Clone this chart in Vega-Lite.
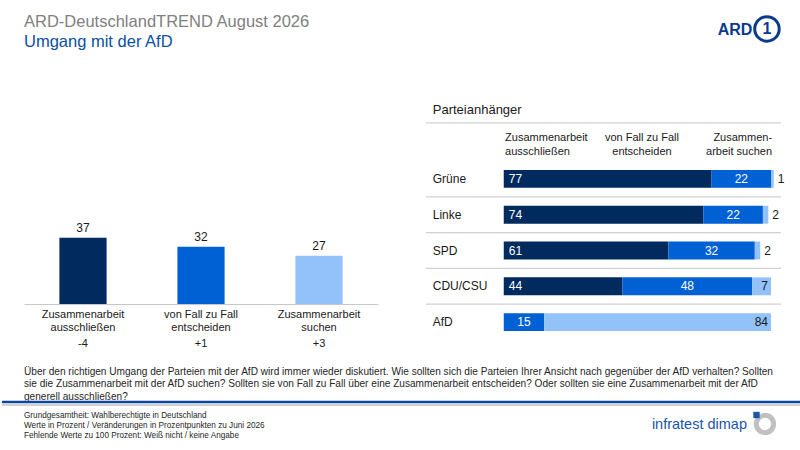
{
  "$schema": "https://vega.github.io/schema/vega-lite/v6.json",
  "background": "white",
  "padding": {"left": 0, "top": 10, "right": 0, "bottom": 0},
  "config": {"font": "Liberation Sans", "view": {"stroke": null}},
  "datasets": {
    "gesamt": [
      {"answer": "Zusammenarbeit\nausschließen", "value": 37, "change": "-4"},
      {"answer": "von Fall zu Fall\nentscheiden", "value": 32, "change": "+1"},
      {"answer": "Zusammenarbeit\nsuchen", "value": 27, "change": "+3"}
    ],
    "parteien": [
      {"party": "Grüne", "k": 1, "value": 77},
      {"party": "Grüne", "k": 2, "value": 22},
      {"party": "Grüne", "k": 3, "value": 1},
      {"party": "Linke", "k": 1, "value": 74},
      {"party": "Linke", "k": 2, "value": 22},
      {"party": "Linke", "k": 3, "value": 2},
      {"party": "SPD", "k": 1, "value": 61},
      {"party": "SPD", "k": 2, "value": 32},
      {"party": "SPD", "k": 3, "value": 2},
      {"party": "CDU/CSU", "k": 1, "value": 44},
      {"party": "CDU/CSU", "k": 2, "value": 48},
      {"party": "CDU/CSU", "k": 3, "value": 7},
      {"party": "AfD", "k": 1, "value": 0},
      {"party": "AfD", "k": 2, "value": 15},
      {"party": "AfD", "k": 3, "value": 84}
    ],
    "texte": [
      {"frage": "Über den richtigen Umgang der Parteien mit der AfD wird immer wieder diskutiert. Wie sollten sich die Parteien Ihrer Ansicht nach gegenüber der AfD verhalten? Sollten\nsie die Zusammenarbeit mit der AfD suchen? Sollten sie von Fall zu Fall über eine Zusammenarbeit entscheiden? Oder sollten sie eine Zusammenarbeit mit der AfD\ngenerell ausschließen?",
       "fuss": "Grundgesamtheit: Wahlberechtigte in Deutschland\nWerte in Prozent / Veränderungen in Prozentpunkten zu Juni 2026\nFehlende Werte zu 100 Prozent: Weiß nicht / keine Angabe",
       "logo": "infratest dimap"}
    ]
  },
  "vconcat": [
    {
      "hconcat": [
        {
          "width": 354,
          "height": 143,
          "data": {"name": "gesamt"},
          "title": {
            "text": "ARD-DeutschlandTREND August 2026",
            "subtitle": "Umgang mit der AfD",
            "anchor": "start",
            "frame": "group",
            "offset": 111,
            "fontSize": 16.5,
            "fontWeight": "normal",
            "color": "#808080",
            "font": "Liberation Sans",
            "subtitleFont": "Liberation Sans",
            "subtitleFontSize": 16.5,
            "subtitleColor": "#0b4fa3",
            "subtitlePadding": 3
          },
          "encoding": {
            "x": {
              "field": "answer", "type": "nominal", "sort": null,
              "scale": {"paddingInner": 0.6, "paddingOuter": 0.3},
              "axis": {"title": null, "labels": false, "ticks": false, "grid": false, "domainColor": "#c8c8c8", "domainWidth": 1.2}
            }
          },
          "layer": [
            {
              "mark": {"type": "bar"},
              "encoding": {
                "y": {"field": "value", "type": "quantitative", "scale": {"domain": [0, 80]}, "axis": null},
                "color": {"field": "answer", "type": "nominal", "scale": {"domain": ["Zusammenarbeit\nausschließen", "von Fall zu Fall\nentscheiden", "Zusammenarbeit\nsuchen"], "range": ["#012a5e", "#0061d5", "#93c2fb"]}, "legend": null}
              }
            },
            {
              "mark": {"type": "text", "baseline": "alphabetic", "dy": -6, "fontSize": 12, "color": "#1a1a1a"},
              "encoding": {
                "y": {"field": "value", "type": "quantitative", "axis": null},
                "text": {"field": "value", "type": "quantitative"}
              }
            },
            {
              "mark": {"type": "text", "baseline": "alphabetic", "lineBreak": "\n", "lineHeight": 13.5, "dy": 13.5, "fontSize": 11, "color": "#1a1a1a"},
              "encoding": {
                "y": {"datum": 0, "type": "quantitative", "axis": null},
                "text": {"field": "answer", "type": "nominal"}
              }
            },
            {
              "mark": {"type": "text", "baseline": "alphabetic", "dy": 43, "fontSize": 11, "color": "#1a1a1a"},
              "encoding": {
                "y": {"datum": 0, "type": "quantitative", "axis": null},
                "text": {"field": "change", "type": "nominal"}
              }
            }
          ]
        },
        {
          "width": 355,
          "height": 179,
          "data": {"name": "parteien"},
          "transform": [
            {"stack": "value", "groupby": ["party"], "sort": [{"field": "k", "order": "ascending"}], "as": ["x0", "x1"]}
          ],
          "encoding": {
            "y": {"field": "party", "type": "nominal", "scale": {"domain": ["Grüne", "Linke", "SPD", "CDU/CSU", "AfD"], "paddingInner": 0, "paddingOuter": 0}, "axis": null}
          },
          "layer": [
            {
              "transform": [{"filter": "datum.k == 1 && datum.party != 'AfD'"}],
              "mark": {"type": "rule", "color": "#d0d0d0", "strokeWidth": 1.3, "yOffset": 17.9},
              "encoding": {
                "x": {"datum": -28.8, "type": "quantitative", "scale": {"domain": [-28.8, 102.7], "nice": false, "zero": false}, "axis": null},
                "x2": {"datum": 102.7}
              }
            },
            {
              "transform": [{"filter": "datum.k == 1 && datum.party == 'Grüne'"}],
              "mark": {"type": "rule", "color": "#d0d0d0", "strokeWidth": 1.3, "yOffset": -56},
              "encoding": {
                "x": {"datum": -28.8, "type": "quantitative", "axis": null},
                "x2": {"datum": 102.7}
              }
            },
            {
              "mark": {"type": "bar", "height": {"band": 0.5}},
              "encoding": {
                "x": {"field": "x0", "type": "quantitative", "axis": null},
                "x2": {"field": "x1"},
                "fill": {"field": "k", "type": "ordinal", "scale": {"domain": [1, 2, 3], "range": ["#012a5e", "#0061d5", "#93c2fb"]}, "legend": null}
              }
            },
            {
              "transform": [{"filter": "datum.k == 1 && datum.value > 0"}],
              "mark": {"type": "text", "align": "left", "dx": 5, "baseline": "middle", "fontSize": 12, "color": "white"},
              "encoding": {
                "x": {"field": "x0", "type": "quantitative", "axis": null},
                "text": {"field": "value", "type": "quantitative"}
              }
            },
            {
              "transform": [
                {"filter": "datum.k == 2"},
                {"fold": ["x0", "x1"], "as": ["edge", "pos"]},
                {"aggregate": [{"op": "mean", "field": "pos", "as": "mid"}], "groupby": ["party", "k", "value"]}
              ],
              "mark": {"type": "text", "align": "center", "baseline": "middle", "fontSize": 12, "color": "white"},
              "encoding": {
                "x": {"field": "mid", "type": "quantitative", "axis": null},
                "text": {"field": "value", "type": "quantitative"}
              }
            },
            {
              "transform": [{"filter": "datum.k == 3 && datum.value >= 5"}],
              "mark": {"type": "text", "align": "right", "dx": -3, "baseline": "middle", "fontSize": 12, "color": "#1a1a1a"},
              "encoding": {
                "x": {"field": "x1", "type": "quantitative", "axis": null},
                "text": {"field": "value", "type": "quantitative"}
              }
            },
            {
              "transform": [{"filter": "datum.k == 3 && datum.value < 5"}],
              "mark": {"type": "text", "align": "left", "dx": 4, "baseline": "middle", "fontSize": 12, "color": "#1a1a1a"},
              "encoding": {
                "x": {"field": "x1", "type": "quantitative", "axis": null},
                "text": {"field": "value", "type": "quantitative"}
              }
            },
            {
              "transform": [{"filter": "datum.k == 1"}],
              "mark": {"type": "text", "align": "left", "baseline": "middle", "fontSize": 12, "color": "#1a1a1a"},
              "encoding": {
                "x": {"datum": -26.3, "type": "quantitative", "axis": null},
                "text": {"field": "party", "type": "nominal"}
              }
            },
            {
              "transform": [{"filter": "datum.k == 1 && datum.party == 'Grüne'"}],
              "mark": {"type": "text", "align": "left", "baseline": "alphabetic", "fontSize": 13, "dy": -64.5, "color": "#1a1a1a", "text": "Parteianhänger"},
              "encoding": {
                "x": {"datum": -26.3, "type": "quantitative", "axis": null}
              }
            },
            {
              "transform": [{"filter": "datum.k == 1 && datum.party == 'Grüne'"}],
              "mark": {"type": "text", "align": "left", "baseline": "alphabetic", "fontSize": 11, "lineHeight": 14, "dy": -37.5, "color": "#1a1a1a", "text": ["Zusammenarbeit", "ausschließen"]},
              "encoding": {
                "x": {"datum": 0.5, "type": "quantitative", "axis": null}
              }
            },
            {
              "transform": [{"filter": "datum.k == 1 && datum.party == 'Grüne'"}],
              "mark": {"type": "text", "align": "center", "baseline": "alphabetic", "fontSize": 11, "lineHeight": 14, "dy": -37.5, "color": "#1a1a1a", "text": ["von Fall zu Fall", "entscheiden"]},
              "encoding": {
                "x": {"datum": 51.2, "type": "quantitative", "axis": null}
              }
            },
            {
              "transform": [{"filter": "datum.k == 1 && datum.party == 'Grüne'"}],
              "mark": {"type": "text", "align": "right", "baseline": "alphabetic", "fontSize": 11, "lineHeight": 14, "dy": -37.5, "color": "#1a1a1a", "text": ["Zusammen-", "arbeit suchen"]},
              "encoding": {
                "x": {"datum": 99.4, "type": "quantitative", "axis": null}
              }
            },
            {
              "transform": [{"filter": "datum.k == 1 && datum.party == 'Grüne'"}],
              "mark": {"type": "text", "align": "right", "baseline": "alphabetic", "fontSize": 16, "fontWeight": "bold", "color": "#0a3a8b", "dy": -143.5, "text": "ARD"},
              "encoding": {
                "x": {"datum": 92.1, "type": "quantitative", "axis": null}
              }
            },
            {
              "transform": [{"filter": "datum.k == 1 && datum.party == 'Grüne'"}],
              "mark": {"type": "point", "shape": "circle", "filled": false, "stroke": "#0a3a8b", "strokeWidth": 3, "size": 600, "opacity": 1, "yOffset": -150},
              "encoding": {
                "x": {"datum": 97.5, "type": "quantitative", "axis": null}
              }
            },
            {
              "transform": [{"filter": "datum.k == 1 && datum.party == 'Grüne'"}],
              "mark": {"type": "text", "align": "center", "baseline": "middle", "fontSize": 16, "fontWeight": "bold", "color": "#0a3a8b", "dy": -150, "text": "1"},
              "encoding": {
                "x": {"datum": 97.5, "type": "quantitative", "axis": null}
              }
            }
          ]
        }
      ],
      "spacing": 47
    },
    {
      "width": 778,
      "height": 86,
      "data": {"name": "texte"},
      "encoding": {
        "x": {"datum": 0, "type": "quantitative", "scale": {"domain": [0, 1], "nice": false, "zero": false}, "axis": null},
        "y": {"datum": 0, "type": "quantitative", "scale": {"domain": [0, 1], "reverse": true, "nice": false}, "axis": null}
      },
      "layer": [
        {
          "mark": {"type": "text", "align": "left", "baseline": "alphabetic", "lineBreak": "\n", "lineHeight": 12.5, "fontSize": 10.1, "font": "Liberation Sans", "dy": 12.5, "color": "#262626"},
          "encoding": {"text": {"field": "frage", "type": "nominal"}}
        },
        {
          "mark": {"type": "rule", "color": "#0b47a1", "strokeWidth": 2.5, "yOffset": 40},
          "encoding": {"x": {"datum": -0.0283, "type": "quantitative"}, "x2": {"datum": 1}}
        },
        {
          "mark": {"type": "rule", "color": "#c4c4c4", "strokeWidth": 1.5, "yOffset": 43},
          "encoding": {"x": {"datum": -0.0283, "type": "quantitative"}, "x2": {"datum": 1}}
        },
        {
          "mark": {"type": "text", "align": "left", "baseline": "alphabetic", "lineBreak": "\n", "lineHeight": 10, "fontSize": 8.2, "font": "Liberation Sans", "dy": 55.5, "color": "#262626"},
          "encoding": {"text": {"field": "fuss", "type": "nominal"}}
        },
        {
          "mark": {"type": "text", "align": "right", "baseline": "alphabetic", "fontSize": 14.5, "dy": 67, "color": "#1a55a6"},
          "encoding": {"x": {"datum": 0.9293, "type": "quantitative"}, "text": {"field": "logo", "type": "nominal"}}
        },
        {
          "mark": {"type": "point", "shape": "circle", "filled": false, "stroke": "#c0c0c0", "strokeWidth": 5, "size": 300, "opacity": 1, "yOffset": 62},
          "encoding": {"x": {"datum": 0.9524, "type": "quantitative"}}
        },
        {
          "mark": {"type": "point", "shape": "square", "filled": true, "fill": "#1a55a6", "size": 40, "opacity": 1, "yOffset": 53},
          "encoding": {"x": {"datum": 0.9415, "type": "quantitative"}}
        }
      ]
    }
  ],
  "spacing": 13
}
